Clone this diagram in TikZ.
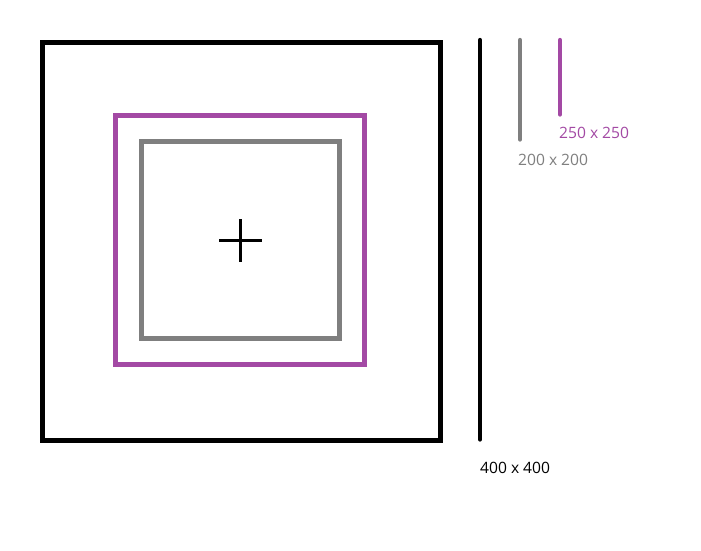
\documentclass[tikz,border=0pt]{standalone}
\usepackage{fontspec}
\setmainfont{Open Sans}
\definecolor{paintpurple}{HTML}{A349A4}
\definecolor{paintgray}{HTML}{7F7F7F}
\begin{document}
\begin{tikzpicture}[x=1pt,y=-1pt,
  sq/.style={line width=5pt},
  bar/.style={line width=4.3pt,line cap=round},
  lbl/.style={anchor=west,inner sep=0pt,font=\fontsize{15.6}{18}\selectfont}]
\useasboundingbox[fill=white] (0,0) rectangle (701,551);
% squares
\draw[sq,black] (42.5,42.5) rectangle (440.5,440);
\draw[sq,paintpurple] (115,115) rectangle (364,364);
\draw[sq,paintgray] (141.5,141.5) rectangle (339.5,338);
% centre cross
\draw[line width=3pt] (219,240.5) -- (262,240.5);
\draw[line width=3pt] (240.5,219) -- (240.5,262);
% size bars
\draw[bar,black] (480,40) -- (480,439.5);
\draw[bar,paintgray] (520,40) -- (520,139.5);
\draw[bar,paintpurple] (560,40) -- (560,114.5);
% labels
\node[lbl,text=paintpurple] (l250) at (559,133) {250 x 250};
\node[lbl,text=paintgray] (l200) at (518,160) {200 x 200};
\node[lbl,text=black] (l400) at (480,468) {400 x 400};
\end{tikzpicture}
\end{document}
